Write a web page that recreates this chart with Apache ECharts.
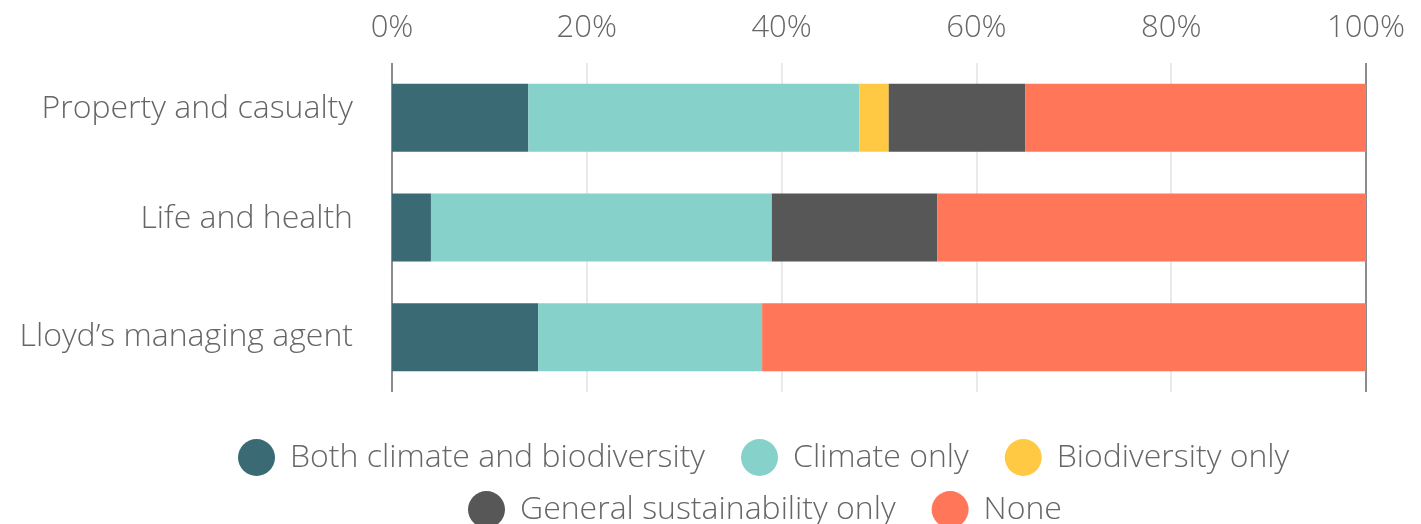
<!DOCTYPE html>
<html>
<head>
<meta charset="utf-8">
<script src="https://cdn.jsdelivr.net/npm/echarts@6/dist/echarts.min.js"></script>
<style>
  html, body { margin: 0; padding: 0; background: #fff; }
  #chart { width: 1421px; height: 524px; }
</style>
</head>
<body>
<div id="chart"></div>
<script>
// data (percent of each group)
const categories = ['Property and casualty', 'Life and health', 'Lloyd\u2019s managing agent']
const seriesNames = ['Both climate and biodiversity', 'Climate only', 'Biodiversity only', 'General sustainability only', 'None']
const bothValues = [14, 4, 15]
const climateValues = [34, 35, 23]
const biodiversityValues = [3, 0, 0]
const generalValues = [14, 17, 0]
const noneValues = [35, 44, 62]
const xTicks = [0, 20, 40, 60, 80, 100]

const colors = ['#3a6b74', '#86d1ca', '#ffc943', '#575757', '#ff7659']
const font = 'Open Sans'
const textColor = '#666'

const chart = echarts.init(document.getElementById('chart'), null, { renderer: 'canvas' })

const values = [bothValues, climateValues, biodiversityValues, generalValues, noneValues]
const series = seriesNames.map((name, i) => ({
  name: name,
  type: 'bar',
  stack: 'total',
  barWidth: 68,
  data: values[i],
  itemStyle: { color: colors[i] },
  emphasis: { disabled: true }
}))

// line colours for 0..100: the edges are darker
const splitColors = xTicks.map(t => (t === 0 || t === 100) ? '#666' : '#e3e3e3')

const labelStyle = {
  fontFamily: font,
  fontWeight: 300,
  fontSize: 32,
  color: textColor
}

const legendText = Object.assign({}, labelStyle, { padding: [0, 0, 0, 10] })

chart.setOption({
  backgroundColor: '#fff',
  animation: false,
  color: colors,
  grid: { left: 392, right: 55, top: 63, bottom: 132, containLabel: false },
  xAxis: {
    type: 'value',
    position: 'top',
    min: 0,
    max: 100,
    interval: 20,
    axisLine: { show: false },
    axisTick: { show: false },
    axisLabel: {
      formatter: '{value}%',
      fontFamily: font,
      fontWeight: 300,
      fontSize: 31,
      color: textColor,
      margin: 19
    },
    splitLine: { show: true, lineStyle: { color: splitColors, width: 1.5 } }
  },
  yAxis: {
    type: 'category',
    inverse: true,
    data: categories,
    axisLine: { show: false },
    axisTick: { show: false },
    axisLabel: {
      // the first two labels sit a little above their bars in the original
      formatter: (value, index) => index < 2 ? '{up|' + value + '}' : '{mid|' + value + '}',
      margin: 39,
      rich: {
        up: Object.assign({}, labelStyle, { padding: [0, 0, 17, 0] }),
        mid: labelStyle
      }
    }
  },
  legend: [
    {
      data: seriesNames.slice(0, 3),
      left: 233,
      top: 434,
      icon: 'circle',
      itemWidth: 37,
      itemHeight: 37,
      itemGap: 36,
      textStyle: legendText,
      selectedMode: false
    },
    {
      data: seriesNames.slice(3),
      left: 463,
      top: 486,
      icon: 'circle',
      itemWidth: 37,
      itemHeight: 37,
      itemGap: 36,
      textStyle: legendText,
      selectedMode: false
    }
  ],
  series: series
})
</script>
</body>
</html>
